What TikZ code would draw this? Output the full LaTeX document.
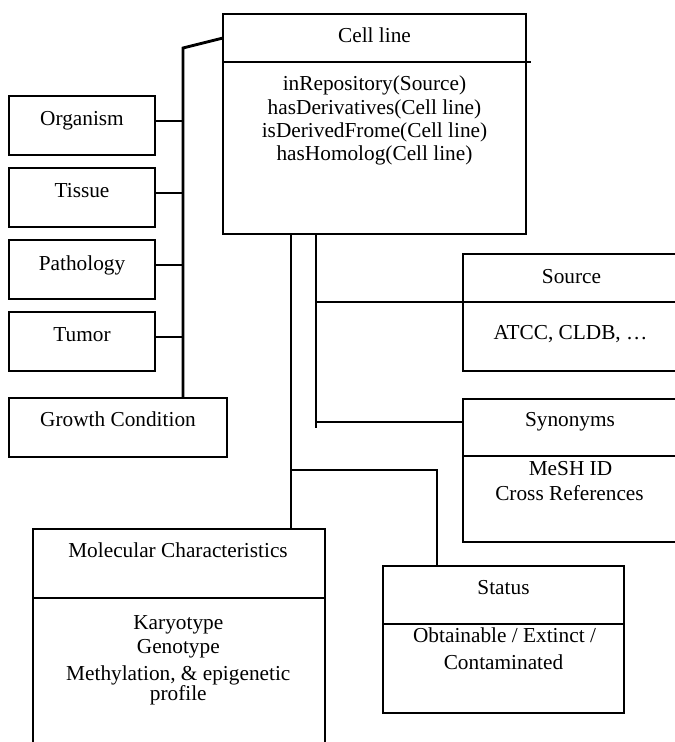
\documentclass[tikz,border=0pt]{standalone}
\usepackage{fontspec}
\setmainfont{Liberation Serif}
\usetikzlibrary{calc}
\tikzset{
  ln/.style={line width=2.9pt},
  box/.style={draw, line width=2.9pt, inner sep=0pt, outer sep=0pt, anchor=north west},
  txt/.style={anchor=base, inner sep=0pt, font=\fontsize{21.3}{24}\selectfont},
}
\begin{document}
\begin{tikzpicture}[x=1pt,y=-1pt]
\useasboundingbox (0,0) rectangle (675,742);
\fill[white] (0,0) rectangle (675,742);
\clip (0,0) rectangle (675,742);

% ---- boxes ----
\node[box, minimum width=303pt, minimum height=220pt] (cell) at (223,14) {};
\node[box, minimum width=146pt, minimum height=59pt] (org) at (9,96) {};
\node[box, minimum width=146pt, minimum height=59pt] (tis) at (9,168) {};
\node[box, minimum width=146pt, minimum height=59pt] (pat) at (9,240) {};
\node[box, minimum width=146pt, minimum height=59pt] (tum) at (9,312) {};
\node[box, minimum width=218pt, minimum height=59pt] (grow) at (9,398) {};
\node[box, minimum width=216pt, minimum height=117pt] (src) at (463,254) {};
\node[box, minimum width=216pt, minimum height=143pt] (syn) at (463,399) {};
\node[box, minimum width=292pt, minimum height=240pt] (mol) at (33,529) {};
\node[box, minimum width=241pt, minimum height=147pt] (stat) at (383,566) {};

% ---- compartment dividers ----
\draw[ln] (223,62) -- (531,62);
\draw[ln] (463,302) -- (679,302);
\draw[ln] (463,456) -- (679,456);
\draw[ln] (33,598) -- (325,598);
\draw[ln] (383,624) -- (624,624);

% ---- texts ----
\node[txt] (tcell) at (374.5,42.5) {Cell line};
\node[txt] (tcell1) at (374.5,90.7) {inRepository(Source)};
\node[txt] (tcell2) at (374.5,114) {hasDerivatives(Cell line)};
\node[txt] (tcell3) at (374.5,137.3) {isDerivedFrome(Cell line)};
\node[txt] (tcell4) at (374.5,160.7) {hasHomolog(Cell line)};

\node[txt] (torg) at (82,125) {Organism};
\node[txt] (ttis) at (82,197.5) {Tissue};
\node[txt] (tpat) at (82,270) {Pathology};
\node[txt] (ttum) at (82,341.5) {Tumor};
\node[txt] (tgrow) at (118,426) {Growth Condition};

\node[txt] (tsrc) at (571.5,283) {Source};
\node[txt] (tsrc1) at (570.5,339) {ATCC, CLDB, …};
\node[txt] (tsyn) at (570,426.7) {Synonyms};
\node[txt] (tsyn1) at (570.5,475) {MeSH ID};
\node[txt] (tsyn2) at (569.5,500.7) {Cross References};

\node[txt] (tmol) at (178,557.7) {Molecular Characteristics};
\node[txt] (tmol1) at (178.3,629.3) {Karyotype};
\node[txt] (tmol2) at (178.3,653.3) {Genotype};
\node[txt] (tmol3) at (178.3,680) {Methylation, \& epigenetic};
\node[txt] (tmol4) at (178.3,700.7) {profile};

\node[txt] (tstat) at (503.5,594) {Status};
\node[txt] (tstat1) at (504.5,642.3) {Obtainable / Extinct /};
\node[txt] (tstat2) at (503.5,669) {Contaminated};

% ---- connectors ----
\coordinate (cellL) at ($(cell.north west)+(0,24)$);
\coordinate (busTop) at (183,48);
\draw[ln] (cellL) -- (busTop) -- (busTop |- grow.north);
\foreach \n in {org,tis,pat,tum}
  \draw[ln] ([yshift=4.5pt]\n.east) -- ([yshift=4.5pt]\n.east -| busTop);

\coordinate (stemA) at ($(cell.south west)+(68,0)$);
\coordinate (stemB) at ($(cell.south west)+(93,0)$);
\draw[ln] (stemA) -- (stemA |- mol.north);

\coordinate (forkS) at (437,470);
\draw[ln] (stemA |- forkS) -- (forkS) -- (forkS |- stat.north);

\coordinate (stemBend) at (316,428);
\draw[ln] (stemB) -- (stemBend);
\coordinate (srcJ) at ($(src.north west)+(0,48)$);
\draw[ln] (stemB |- srcJ) -- ($(srcJ)+(14,0)$);
\coordinate (synJ) at ($(syn.north west)+(0,23)$);
\draw[ln] (stemB |- synJ) -- (synJ);
\end{tikzpicture}
\end{document}
